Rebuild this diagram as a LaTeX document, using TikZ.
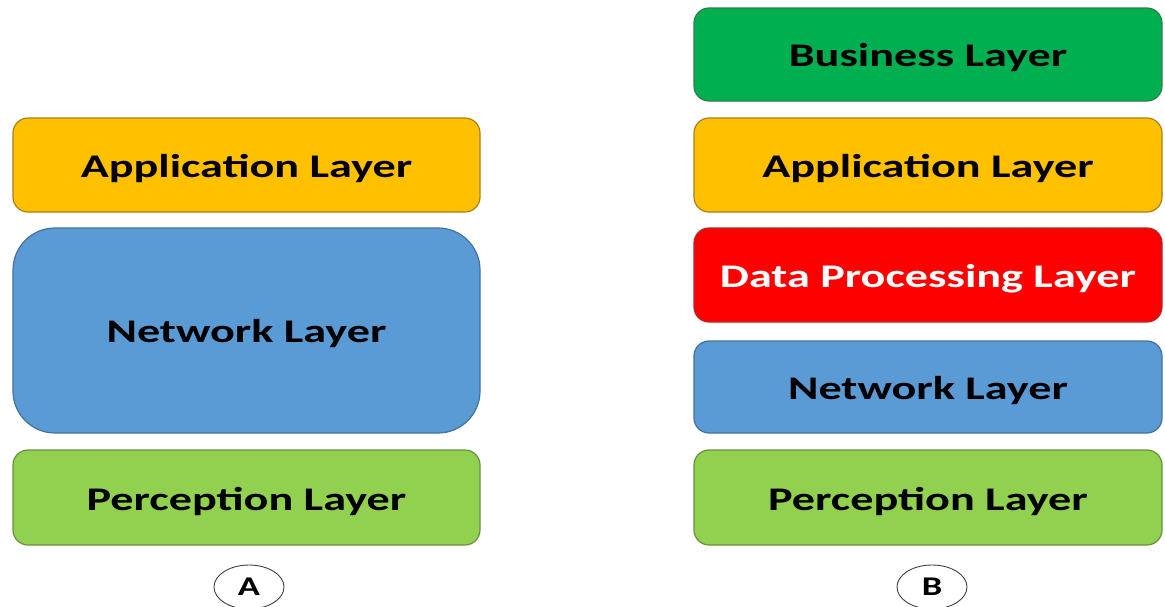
\documentclass[tikz,border=0pt]{standalone}
\usepackage{fontspec}
\setmainfont{Carlito}
\usetikzlibrary{shapes.geometric}

\definecolor{appfill}{HTML}{FFC000}
\definecolor{appline}{HTML}{A8801A}
\definecolor{netfill}{HTML}{5B9BD5}
\definecolor{netline}{HTML}{41719C}
\definecolor{perfill}{HTML}{92D050}
\definecolor{perline}{HTML}{6A8F3E}
\definecolor{busfill}{HTML}{00B050}
\definecolor{busline}{HTML}{2E7D4A}
\definecolor{datfill}{HTML}{FF0000}
\definecolor{datline}{HTML}{B0282A}

% wide bold lettering used on every label, set a little below centre
\newcommand{\widetext}[1]{\raisebox{-3.5pt}[\height][\depth]{\scalebox{1.4}[1]{\fontsize{33}{36}\selectfont\bfseries #1}}}
\newcommand{\widetag}[1]{\scalebox{1.35}[1]{\fontsize{27}{30}\selectfont\bfseries #1}}

\tikzset{
  layer/.style={rectangle, rounded corners=15pt, line width=1.2pt,
    minimum width=467pt, inner sep=0pt, text=black},
  tag/.style={ellipse, draw=black!75, line width=0.9pt,
    minimum width=70pt, minimum height=44pt, inner sep=0pt}
}

\begin{document}
\begin{tikzpicture}[x=1pt,y=-1pt]
\useasboundingbox (0,0) rectangle (1165,606);

% stack A
\node[layer, fill=appfill, draw=appline, minimum height=94pt]
  (a-app) at (246.5,165) {\widetext{Application Layer}};
\node[layer, fill=netfill, draw=netline, minimum height=205pt, rounded corners=42pt]
  (a-net) at (246.5,330.5) {\widetext{Network Layer}};
\node[layer, fill=perfill, draw=perline, minimum height=95pt]
  (a-per) at (246.5,497.5) {\widetext{Perception Layer}};
\node[tag] (a-tag) at (249,587) {\widetag{A}};

% stack B
\node[layer, fill=busfill, draw=busline, minimum height=93pt, minimum width=468pt]
  (b-bus) at (928,54.5) {\widetext{Business Layer}};
\node[layer, fill=appfill, draw=appline, minimum height=94pt, minimum width=468pt]
  (b-app) at (928,165) {\widetext{Application Layer}};
\node[layer, fill=datfill, draw=datline, minimum height=94pt, minimum width=468pt, text=white]
  (b-dat) at (928,275) {\widetext{Data Processing Layer}};
\node[layer, fill=netfill, draw=netline, minimum height=92pt, minimum width=468pt]
  (b-net) at (928,387) {\widetext{Network Layer}};
\node[layer, fill=perfill, draw=perline, minimum height=95pt, minimum width=468pt]
  (b-per) at (928,497.5) {\widetext{Perception Layer}};
\node[tag] (b-tag) at (932,587) {\widetag{B}};
\end{tikzpicture}
\end{document}
